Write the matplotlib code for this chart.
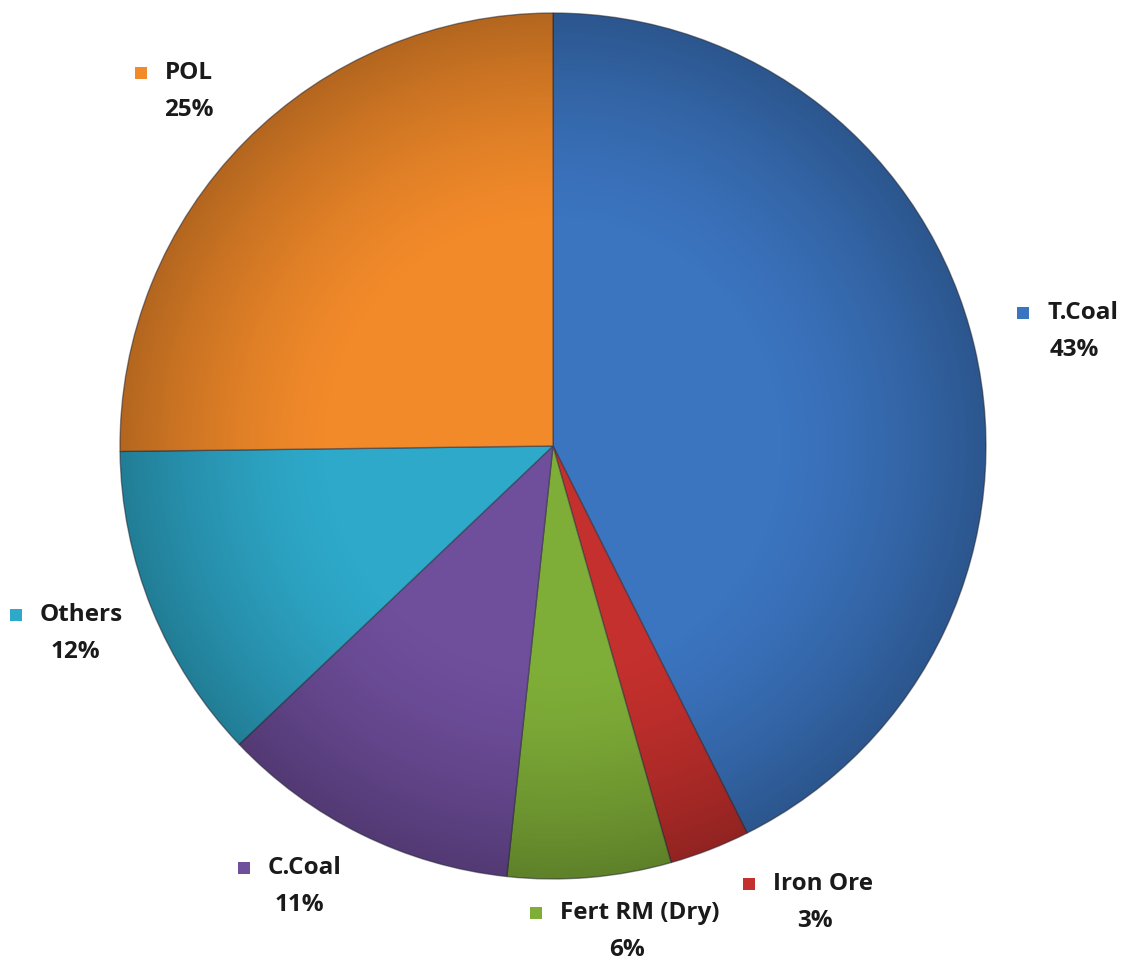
import numpy as np
import matplotlib
matplotlib.use("Agg")
import matplotlib.pyplot as plt
from matplotlib.patches import Circle

# data, clockwise from 12 o'clock (shares)
categories = ["T.Coal", "Iron Ore", "Fert RM (Dry)", "C.Coal", "Others", "POL"]
shares = [42.6, 3.0, 6.1, 11.2, 11.9, 25.2]
colors = ["#3b74bf", "#c4302d", "#7fae38", "#6f4e9c", "#2ea9ca", "#f28a2a"]

# label anchors (pixel coords, y from top) for each category
label_pos = [(1047, 313), (773, 884), (560, 913), (268, 868), (40, 615), (165, 73)]

W, H = 1128, 964
cx, cy, R = 553, 964 - 446, 433

plt.rcParams['font.family'] = ['Open Sans', 'DejaVu Sans']

fig = plt.figure(figsize=(W / 100, H / 100), dpi=100)
ax = fig.add_axes([0, 0, 1, 1])

wedges, _ = ax.pie(shares, colors=colors, startangle=90, counterclock=False,
                   center=(cx, cy), radius=R, frame=True,
                   wedgeprops=dict(edgecolor=(0.2, 0.2, 0.25, 0.55), linewidth=1.0))

# radial shading to mimic the bevelled look
n = 600
g = np.linspace(-1, 1, n)
xx, yy = np.meshgrid(g, g)
rr = np.sqrt(xx ** 2 + yy ** 2)
shade = np.zeros((n, n, 4))
alpha = np.clip((rr - 0.5) / 0.5, 0, 1) ** 1.5 * 0.26
shade[..., 3] = alpha
img = ax.imshow(shade, extent=(cx - R, cx + R, cy - R, cy + R), origin="lower",
                interpolation="bilinear", zorder=3)
clip = Circle((cx, cy), R, transform=ax.transData)
img.set_clip_path(clip)

renderer = fig.canvas.get_renderer()
for name, val, col, (lx, ly) in zip(categories, shares, colors, label_pos):
    y = H - ly
    t = ax.text(lx, y, name, fontsize=17.5, fontweight="bold", color="#1a1a1a",
                ha="left", va="center", zorder=5)
    ax.scatter([lx - 24], [y], marker="s", s=70, color=col, edgecolors="none", zorder=5)
    # percentage centred under the name
    bb = t.get_window_extent(renderer=renderer)
    mid = ax.transData.inverted().transform(((bb.x0 + bb.x1) / 2, 0))[0]
    ax.text(mid, y - 37, f"{round(val)}%", fontsize=17.5, fontweight="bold",
            color="#1a1a1a", ha="center", va="center", zorder=5)

ax.set_xlim(0, W)
ax.set_ylim(0, H)
ax.set_aspect("equal")
ax.axis("off")

fig.savefig("out.png", dpi=100, facecolor="white")
